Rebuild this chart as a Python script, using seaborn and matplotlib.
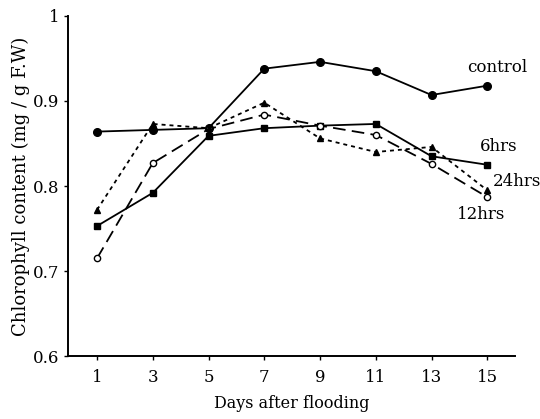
import numpy as np
import pandas as pd
import matplotlib
matplotlib.use("Agg")
import matplotlib.pyplot as plt
import seaborn as sns

days = [1, 3, 5, 7, 9, 11, 13, 15]
control = [0.864, 0.866, 0.868, 0.938, 0.946, 0.935, 0.907, 0.918]
hrs6 = [0.753, 0.792, 0.859, 0.868, 0.871, 0.873, 0.835, 0.825]
hrs12 = [0.715, 0.827, 0.867, 0.884, 0.871, 0.860, 0.826, 0.787]
hrs24 = [0.772, 0.873, 0.868, 0.898, 0.856, 0.840, 0.846, 0.795]
series_names = ["control", "6hrs", "12hrs", "24hrs"]

sns.set_style("ticks", {"text.color": "black", "xtick.color": "black",
                        "ytick.color": "black", "axes.labelcolor": "black",
                        "axes.edgecolor": "black"})
plt.rcParams['font.family'] = ['DejaVu Serif', 'Liberation Serif']

fig = plt.figure(figsize=(5.4, 4.19), dpi=100)
ax = fig.add_axes([0.126, 0.150, 0.828, 0.812])

# 每条曲线的样式
styles = {
    "control": dict(ls='-', marker='o', mfc='black', ms=5.5),
    "6hrs": dict(ls='-', marker='s', mfc='black', ms=5),
    "12hrs": dict(ls=(0, (7, 3.5)), marker='o', mfc='white', ms=4.5),
    "24hrs": dict(ls=(0, (2.2, 2.2)), marker='^', mfc='black', ms=4.5),
}
data = {"control": control, "6hrs": hrs6, "12hrs": hrs12, "24hrs": hrs24}

for name in series_names:
    st = styles[name]
    sns.lineplot(x=days, y=data[name], ax=ax, color='black', lw=1.3,
                 linestyle=st['ls'], marker=st['marker'],
                 markerfacecolor=st['mfc'], markeredgecolor='black',
                 markeredgewidth=1.0, markersize=st['ms'])

# 曲线标注
fs = 12
ax.text(15.35, 0.939, "control", fontsize=fs, ha='center', va='center')
ax.text(15.4, 0.847, "6hrs", fontsize=fs, ha='center', va='center')
ax.text(16.07, 0.805, "24hrs", fontsize=fs, ha='center', va='center')
ax.text(14.78, 0.766, "12hrs", fontsize=fs, ha='center', va='center')

ax.set_xlim(-0.04, 16.0)
ax.set_ylim(0.6, 1.0)
ax.set_xticks(days)
ax.set_yticks([0.6, 0.7, 0.8, 0.9, 1.0])
ax.set_yticklabels(["0.6", "0.7", "0.8", "0.9", "1"])
ax.tick_params(labelsize=fs, length=3, width=1, direction='out', pad=3)
ax.tick_params(axis='x', pad=6)
ax.set_xlabel("Days after flooding", fontsize=11.5, labelpad=7)
ax.set_ylabel("Chlorophyll content (mg / g F.W)", fontsize=13, labelpad=2)
sns.despine(ax=ax)
for s in ['left', 'bottom']:
    ax.spines[s].set_linewidth(1.4)

fig.savefig("out.png", dpi=100)
